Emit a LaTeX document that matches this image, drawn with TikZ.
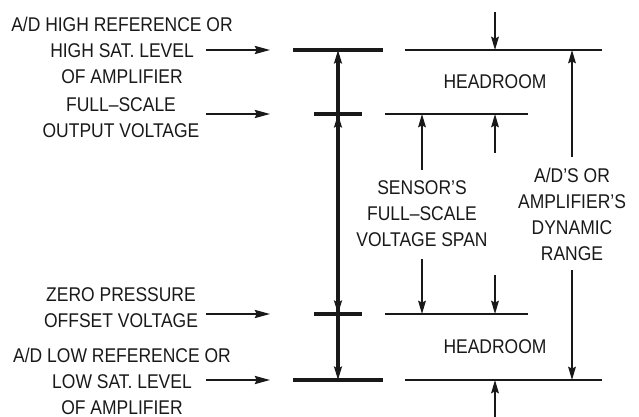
\documentclass[tikz,border=0pt]{standalone}
\usepackage{fontspec}
\setmainfont{Liberation Sans}[FakeStretch=0.88]
\usetikzlibrary{arrows.meta}
\tikzset{
  lbl/.style={align=center, inner sep=0pt, font=\fontsize{14.9pt}{19.5pt}\selectfont, text=black!90},
  thn/.style={line width=1.1pt, draw=black!90},
  thk/.style={line width=2.4pt, draw=black!90},
  arr/.style={-{Stealth[length=10pt,width=5.8pt,inset=1.5pt]}},
  harr/.style={-{Stealth[length=11.5pt,width=6.2pt,inset=1.5pt]}, line width=1.1pt, draw=black!90}
}
\begin{document}
\begin{tikzpicture}[x=0.75pt,y=-0.75pt]
\useasboundingbox (0,0) rectangle (639,417);
% left labels
\node[lbl] (lhi) at (122,50) {A/D HIGH REFERENCE OR\\HIGH SAT. LEVEL\\OF AMPLIFIER};
\node[lbl] (lfs) at (121,118) {FULL–SCALE\\OUTPUT VOLTAGE};
\node[lbl] (lzero) at (121,308) {ZERO PRESSURE\\OFFSET VOLTAGE};
\node[lbl] (llo) at (122,381) {A/D LOW REFERENCE OR\\LOW SAT. LEVEL\\OF AMPLIFIER};
% left arrow ends
\coordinate (ahs) at (206,50);  \coordinate (ahe) at (270,50);
\coordinate (afs) at (206,114); \coordinate (afe) at (270,114);
\coordinate (azs) at (206,314); \coordinate (aze) at (270,314);
\coordinate (als) at (206,380); \coordinate (ale) at (270,380);
\draw[harr] (ahs) -- (ahe);
\draw[harr] (afs) -- (afe);
\draw[harr] (azs) -- (aze);
\draw[harr] (als) -- (ale);
% central levels
\coordinate (tL) at (293,50);  \coordinate (tR) at (383,50);  \coordinate (tM) at (338,50);
\coordinate (fL) at (314,114); \coordinate (fR) at (362,114); \coordinate (fM) at (338,114);
\coordinate (zL) at (314,314); \coordinate (zR) at (362,314); \coordinate (zM) at (338,314);
\coordinate (bL) at (293,380); \coordinate (bR) at (383,380); \coordinate (bM) at (338,380);
\draw[thk] (tL) -- (tR);
\draw[thk] (fL) -- (fR);
\draw[thk] (zL) -- (zR);
\draw[thk] (bL) -- (bR);
\draw[thk,arr] (fM) -- (tM);
\draw[thk,arr] (zM) -- (fM);
\draw[thk,arr] (fM) -- (zM);
\draw[thk,arr] (zM) -- (bM);
% right levels
\coordinate (rtL) at (405,50);  \coordinate (rtR) at (602,50);
\coordinate (rfL) at (385,114); \coordinate (rfR) at (528,114);
\coordinate (rzL) at (385,314); \coordinate (rzR) at (528,314);
\coordinate (rbL) at (405,380); \coordinate (rbR) at (602,380);
\draw[thn] (rtL) -- (rtR);
\draw[thn] (rfL) -- (rfR);
\draw[thn] (rzL) -- (rzR);
\draw[thn] (rbL) -- (rbR);
\node[lbl] (hd1) at (495,82) {HEADROOM};
\node[lbl] (hd2) at (495,347) {HEADROOM};
\node[lbl] (sens) at (422,213.5) {SENSOR’S\\FULL–SCALE\\VOLTAGE SPAN};
\node[lbl] (dyn) at (572,214.5) {A/D’S OR\\AMPLIFIER’S\\DYNAMIC\\RANGE};
% right arrows
\coordinate (hA) at (495,12);  \coordinate (hAe) at (495,50);
\coordinate (hB) at (495,417); \coordinate (hBe) at (495,380);
\draw[thn,arr] (hA) -- (hAe);
\draw[thn,arr] (hB) -- (hBe);
\coordinate (s1) at (422,170); \coordinate (s1e) at (422,114);
\coordinate (s2) at (495,153); \coordinate (s2e) at (495,114);
\coordinate (s3) at (422,259); \coordinate (s3e) at (422,314);
\coordinate (s4) at (495,275); \coordinate (s4e) at (495,314);
\draw[thn,arr] (s1) -- (s1e);
\draw[thn,arr] (s2) -- (s2e);
\draw[thn,arr] (s3) -- (s3e);
\draw[thn,arr] (s4) -- (s4e);
\coordinate (d1) at (572,157); \coordinate (d1e) at (572,50);
\coordinate (d2) at (572,270); \coordinate (d2e) at (572,380);
\draw[thn,arr] (d1) -- (d1e);
\draw[thn,arr] (d2) -- (d2e);
\end{tikzpicture}
\end{document}
